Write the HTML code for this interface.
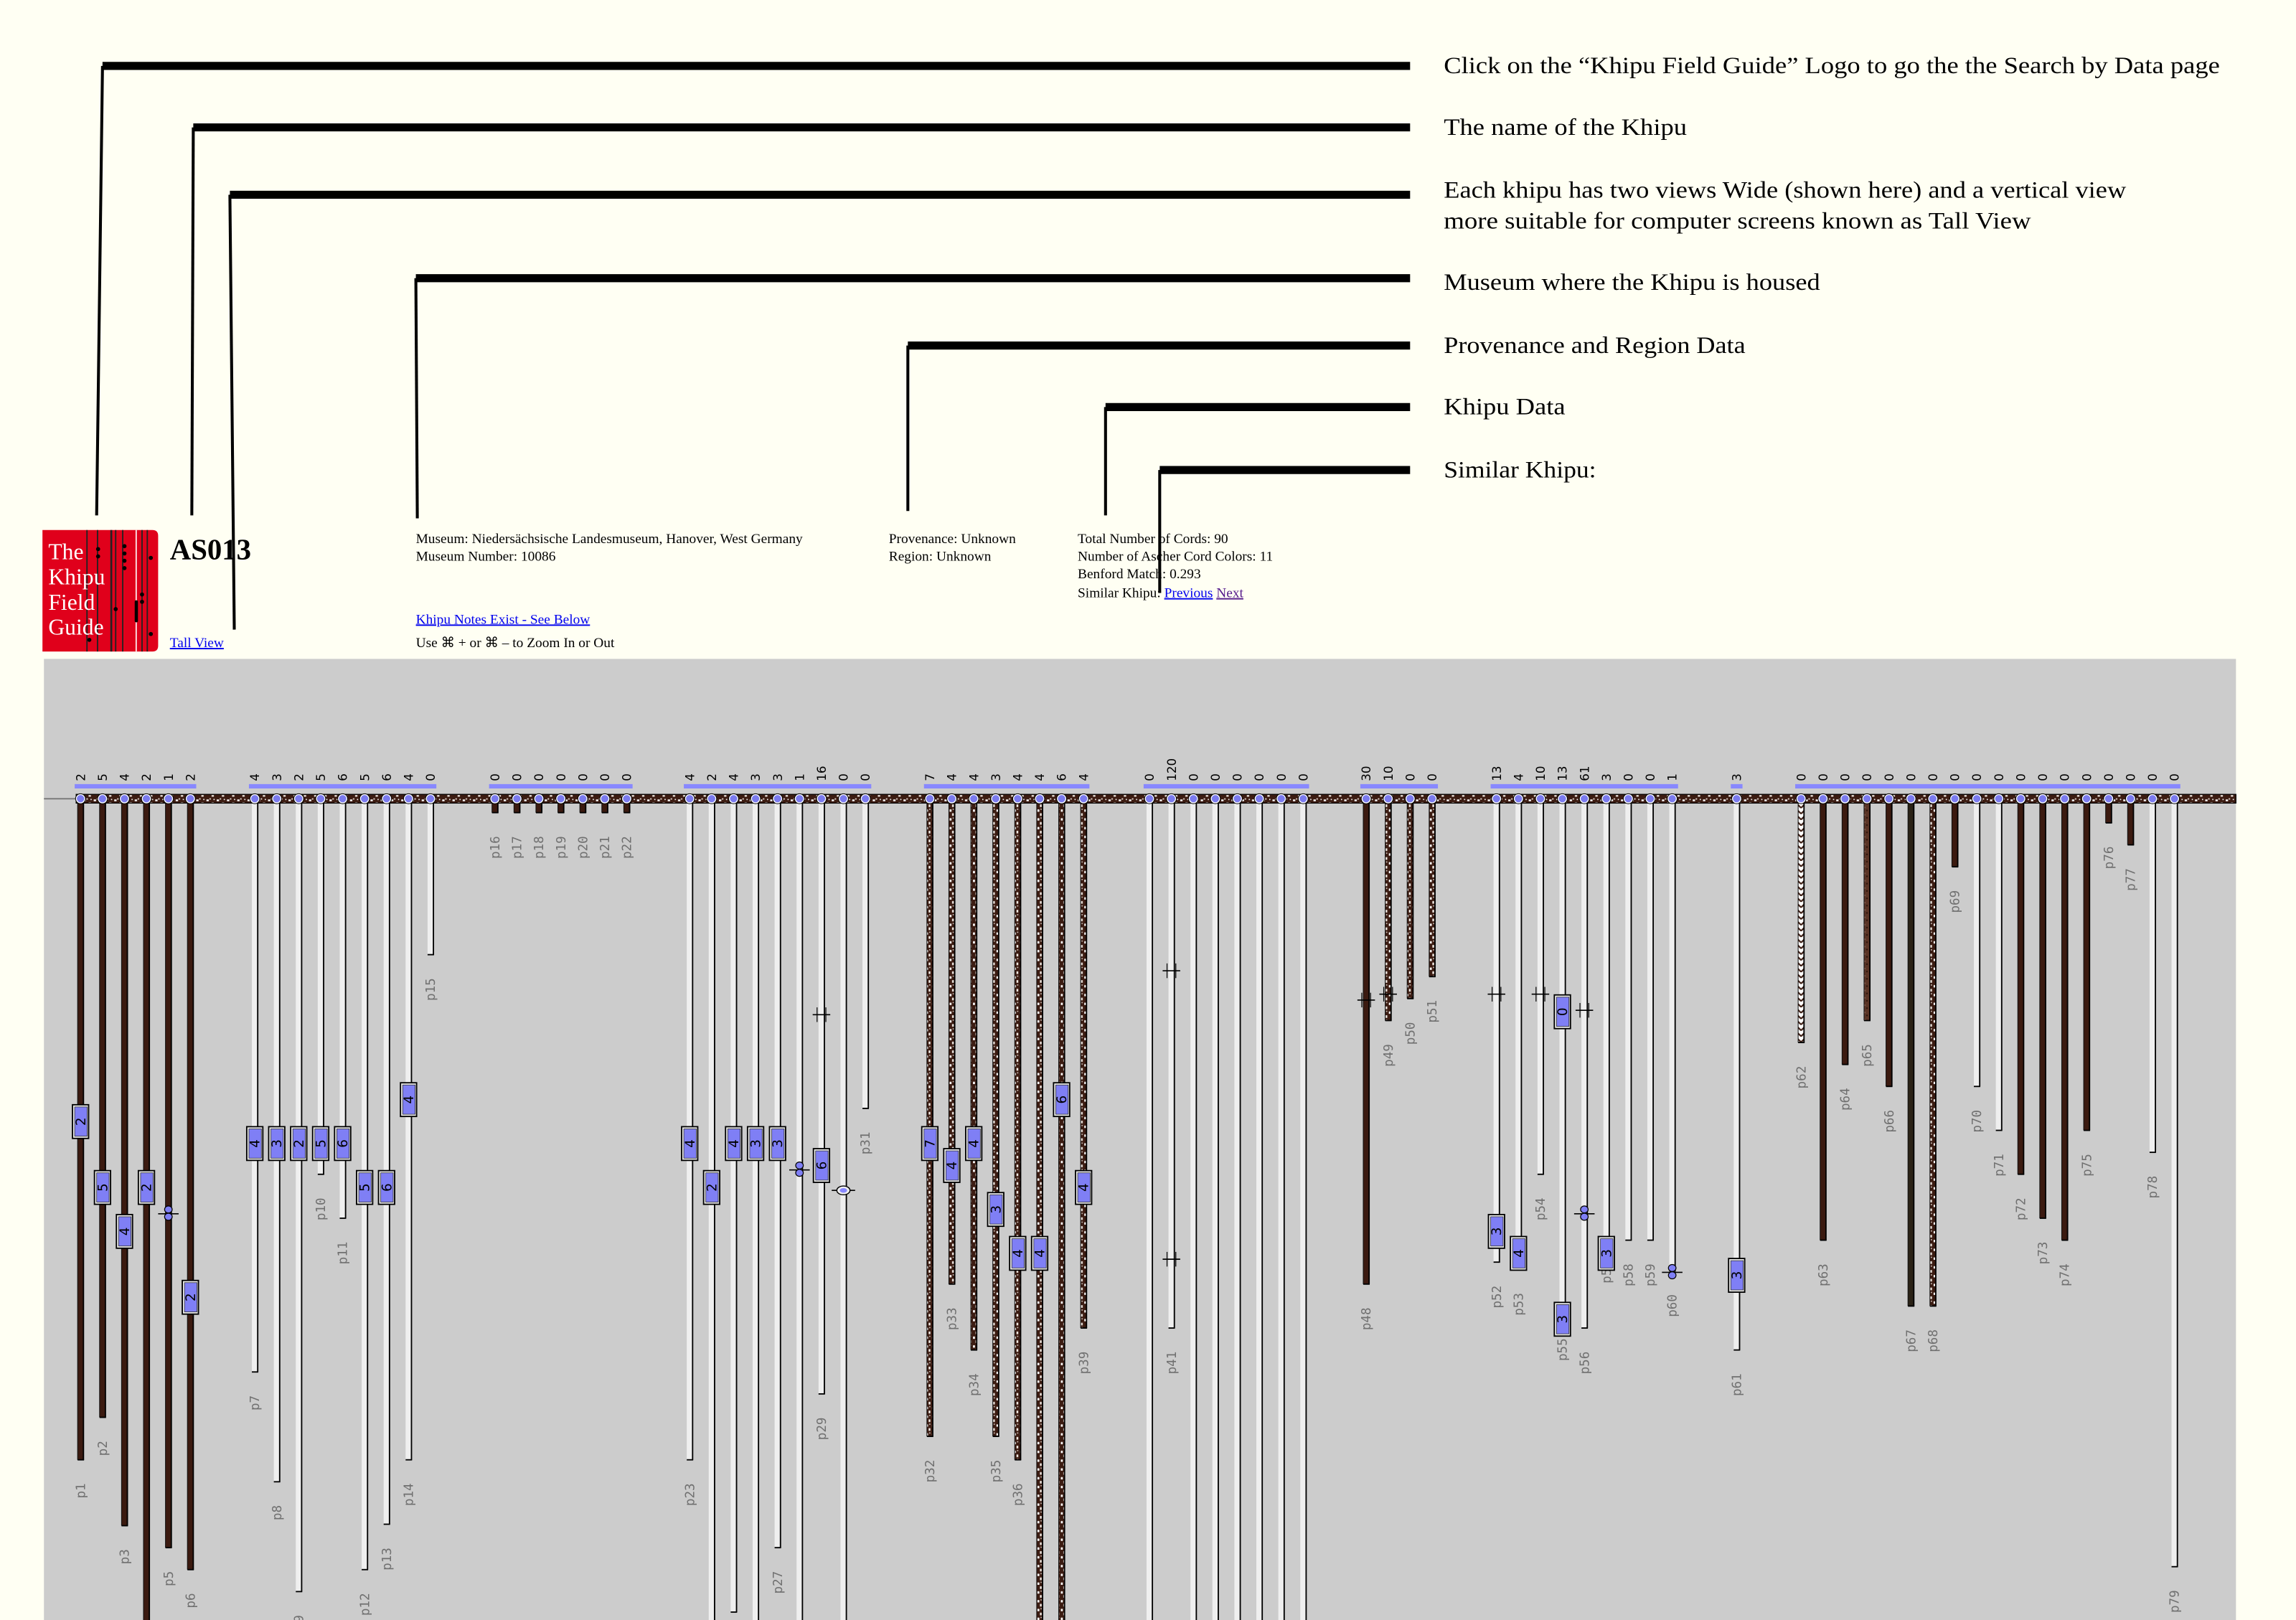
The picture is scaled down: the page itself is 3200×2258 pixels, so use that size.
<!DOCTYPE html>
<html><head><meta charset="utf-8"><style>
html,body{margin:0;padding:0;background:#fffff3;}
svg{display:block}
</style></head><body>
<svg id="s" xmlns="http://www.w3.org/2000/svg" width="3200" height="2258" viewBox="0 0 1568 1106.4">
<defs>
<pattern id="mot" width="7" height="5" patternUnits="userSpaceOnUse">
<rect width="7" height="5" fill="#3c1c12"/>
<rect x="1" y="1" width="1.6" height="1.2" fill="#fff"/>
<rect x="4.5" y="3" width="1.6" height="1.1" fill="#f4eee8"/>
<rect x="3" y="0.2" width="1" height="0.9" fill="#e8dcd4"/>
<rect x="5.8" y="0.6" width="0.8" height="0.8" fill="#fff"/>
</pattern>
<pattern id="motv" width="4" height="6" patternUnits="userSpaceOnUse">
<rect width="4" height="6" fill="#3c1c12"/>
<rect x="0.5" y="0.8" width="1.3" height="1.6" fill="#fff"/>
<rect x="2.2" y="3.4" width="1.2" height="1.8" fill="#f2ece6"/>
<rect x="2.6" y="0.3" width="0.8" height="0.8" fill="#d8ccc4"/>
</pattern>
<pattern id="motr" width="4" height="5" patternUnits="userSpaceOnUse">
<rect width="4" height="5" fill="#5a3426"/>
<rect x="1" y="1" width="1" height="1" fill="#8a6050"/>
<rect x="2.5" y="3" width="1" height="1" fill="#2a120a"/>
</pattern>
<pattern id="zig" width="4" height="4" patternUnits="userSpaceOnUse">
<rect width="4" height="4" fill="#fff"/>
<path d="M0 1 L2 3 L4 1 L4 2.5 L2 4.5 L0 2.5Z" fill="#3c1c12"/>
</pattern>
</defs>
<rect width="1568" height="1106.4" fill="#fffff3"/>
<rect x="30" y="450" width="1497" height="657" fill="#cccccc"/>
<g id="ann" stroke="#000" fill="none"></g>
<g font-family="Liberation Serif, serif" font-size="16" fill="#000">
<text x="986" y="50" textLength="530" lengthAdjust="spacingAndGlyphs">Click on the “Khipu Field Guide” Logo to go the the Search by Data page</text>
<text x="986" y="92" textLength="166" lengthAdjust="spacingAndGlyphs">The name of the Khipu</text>
<text x="986" y="135" textLength="466" lengthAdjust="spacingAndGlyphs">Each khipu has two views Wide (shown here) and a vertical view</text>
<text x="986" y="156" textLength="401" lengthAdjust="spacingAndGlyphs">more suitable for computer screens known as  Tall View</text>
<text x="986" y="198" textLength="257" lengthAdjust="spacingAndGlyphs">Museum where the Khipu is housed</text>
<text x="986" y="241" textLength="206" lengthAdjust="spacingAndGlyphs">Provenance and Region Data</text>
<text x="986" y="283" textLength="83" lengthAdjust="spacingAndGlyphs">Khipu Data</text>
<text x="986" y="326" textLength="104" lengthAdjust="spacingAndGlyphs">Similar Khipu:</text>
</g>
<!-- logo -->
<path d="M29 362 H104 Q108 362 108 366 V441 Q108 445 104 445 H29Z" fill="#e0001b"/>
<g stroke="#222" stroke-width="0.9">
<line x1="59.4" y1="362" x2="59.4" y2="445"/><line x1="66.6" y1="362" x2="66.6" y2="445"/>
<line x1="76" y1="362" x2="76" y2="445" stroke-width="1.3"/><line x1="79" y1="362" x2="79" y2="445"/>
<line x1="83.8" y1="362" x2="83.8" y2="445"/><line x1="93" y1="362" x2="93" y2="445" stroke="#fff" stroke-width="0.8"/>
<line x1="97" y1="362" x2="97" y2="445"/><line x1="100.6" y1="362" x2="100.6" y2="445"/>
</g>
<g fill="#000"><circle cx="67" cy="375" r="1.4"/><circle cx="67" cy="380" r="1.4"/><circle cx="85" cy="373" r="1.4"/><circle cx="85" cy="378" r="1.4"/><circle cx="85" cy="383" r="1.4"/><circle cx="85" cy="388" r="1.4"/><circle cx="103" cy="381" r="1.4"/><circle cx="97" cy="406" r="1.4"/><circle cx="97" cy="411" r="1.4"/><circle cx="79" cy="416" r="1.4"/><rect x="92" y="410" width="2.2" height="15" rx="1"/><circle cx="61" cy="437" r="1.4"/><circle cx="103" cy="433" r="1.4"/></g>
<g font-family="Liberation Serif, serif" font-size="15.5" fill="#fff">
<text x="33" y="382">The</text><text x="33" y="399">Khipu</text><text x="33" y="416.5">Field</text><text x="33" y="433.5">Guide</text></g>
<text x="116" y="382" font-family="Liberation Serif, serif" font-size="20" font-weight="bold">AS013</text>
<g font-family="Liberation Serif, serif" font-size="9.5" fill="#000">
<text x="116" y="442" fill="#00e" text-decoration="underline">Tall View</text>
<text x="284" y="371">Museum: Niedersächsische Landesmuseum, Hanover, West Germany</text>
<text x="284" y="383">Museum Number: 10086</text>
<text x="284" y="426" fill="#00e" text-decoration="underline">Khipu Notes Exist - See Below</text>
<text x="284" y="442">Use ⌘ + or ⌘ – to Zoom In or Out</text>
<text x="607" y="371">Provenance: Unknown</text>
<text x="607" y="383">Region: Unknown</text>
<text x="736" y="371">Total Number of Cords: 90</text>
<text x="736" y="383">Number of Ascher Cord Colors: 11</text>
<text x="736" y="395">Benford Match: 0.293</text>
<text x="736" y="408">Similar Khipu:  <tspan fill="#00e" text-decoration="underline">Previous</tspan>  <tspan fill="#551a8b" text-decoration="underline">Next</tspan></text>
</g>
<g id="bars"></g>
<g id="cords"></g>
<g id="main"></g>
<g id="tops"></g>
</svg>
<script>
var NS="http://www.w3.org/2000/svg";
function el(p,t,a,txt){var e=document.createElementNS(NS,t);for(var k in a)e.setAttribute(k,a[k]);if(txt!==undefined)e.textContent=txt;document.getElementById(p).appendChild(e);return e;}
[[70,45,66,352],[132,87,131,352],[157,133,160,430],[284,190,285,354],[620,236,620,349],[755,278,755,352],[792,321,792,405]].forEach(function(a){
 el('ann','line',{x1:a[0],y1:a[1],x2:963,y2:a[1],'stroke-width':5.5});
 el('ann','line',{x1:a[0],y1:a[1],x2:a[2],y2:a[3],'stroke-width':2});
});
var B=1110,cords=[];
function grp(x0,bots,vals,type,knots,start){
 for(var i=0;i<bots.length;i++){cords.push({x:x0+15*i,b:bots[i],v:vals[i],t:Array.isArray(type)?type[i]:type,k:(knots[i]||[]),n:start+i});}
 el('bars','rect',{x:x0-4,y:535.5,width:15*(bots.length-1)+8,height:3,fill:'#8888ff'});
}
grp(55,[997,968,1042,B,1057,1072],[2,5,4,2,1,2],'b',[[['x',766,2]],[['x',811,5]],[['x',841,4]],[['x',811,2]],[['e',828]],[['x',886,2]]],1);
grp(174,[937,1012,1087,802,832,1072,1041,997,652],[4,3,2,5,6,5,6,4,0],'w',[[['x',781,4]],[['x',781,3]],[['x',781,2]],[['x',781,5]],[['x',781,6]],[['x',811,5]],[['x',811,6]],[['x',751,4]]],7);
grp(338,[555,555,555,555,555,555,555],[0,0,0,0,0,0,0],'b',[],16);
grp(471,[997,B,1101,B,1057,B,952,B,757],[4,2,4,3,3,1,16,0,0],'w',[[['x',781,4]],[['x',811,2]],[['x',781,4]],[['x',781,3]],[['x',781,3]],[['e',798]],[['m',693],['x',796,6]],[['o',813]]],23);
grp(635,[981,877,922,981,997,B,B,907],[7,4,4,3,4,4,6,4],'m',[[['x',781,7]],[['x',796,4]],[['x',781,4]],[['x',826,3]],[['x',856,4]],[['x',856,4]],[['x',751,6]],[['x',811,4]]],32);
grp(785,[B,907,B,B,B,B,B,B],[0,120,0,0,0,0,0,0],'w',[[],[['m',663],['m',860]]],40);
grp(933,[877,697,682,667],[30,10,0,0],['b','m','m','m'],[[['m',683]],[['m',679]]],48);
grp(1022,[862,867,802,898,907,845,847,847,868],[13,4,10,13,61,3,0,0,1],'w',[[['m',679],['x',841,3]],[['x',856,4]],[['m',679]],[['x',691,0],['x',901,3]],[['m',690],['e',828]],[['x',856,3]],[],[],[['e',868]]],52);
grp(1186,[922],[3],'w',[[['x',871,3]]],61);
grp(1230,[712,847,727,697,742,892,892,592,742,772,802,832,847,772,562,577,787,1070],[0,0,0,0,0,0,0,0,0,0,0,0,0,0,0,0,0,0],
 ['z','b','b','r','b','o','m','b','w','w','b','b','b','b','b','b','w','w'],[],62);
var fills={b:'#3b1a10',w:'#efefef',m:'url(#motv)',r:'url(#motr)',z:'url(#zig)',o:'#2a2216'};
cords.forEach(function(c){
 el('cords','rect',{x:c.x-2,y:548,width:4,height:c.b-548,fill:fills[c.t]});
 el('cords','line',{x1:c.x+2,y1:548,x2:c.x+2,y2:c.b,stroke:'#000','stroke-width':0.9});
 if(c.t!='w')el('cords','line',{x1:c.x-2,y1:548,x2:c.x-2,y2:c.b,stroke:'#111','stroke-width':0.5});
 el('cords','line',{x1:c.x-2,y1:c.b,x2:c.x+2.4,y2:c.b,stroke:'#000','stroke-width':0.9});
 if(c.b<1100){el('cords','text',{x:0,y:0,transform:'translate('+(c.x+3)+','+(c.b+16)+') rotate(-90)','text-anchor':'end','font-family':'DejaVu Sans Mono, monospace','font-size':8.6,fill:'#707070'},'p'+c.n);}
 c.k.forEach(function(k){
  if(k[0]=='x'){
   el('cords','rect',{x:c.x-5.5,y:k[1]-11.5,width:11,height:23,fill:'#eee',stroke:'#000','stroke-width':0.9});
   el('cords','rect',{x:c.x-4,y:k[1]-10,width:8.5,height:20,fill:'#7f7ff5',stroke:'#333','stroke-width':0.4});
   el('cords','text',{x:0,y:0,transform:'translate('+(c.x+3.2)+','+k[1]+') rotate(-90)','text-anchor':'middle','font-family':'DejaVu Sans, sans-serif','font-size':9,fill:'#000'},k[2]);
  }else if(k[0]=='e'){
   el('cords','line',{x1:c.x-7,y1:k[1]+1,x2:c.x+7,y2:k[1]+1,stroke:'#000','stroke-width':0.8});
   el('cords','ellipse',{cx:c.x,cy:k[1]-2,rx:2.6,ry:2.4,fill:'#7f7ff5',stroke:'#000','stroke-width':0.6});
   el('cords','ellipse',{cx:c.x,cy:k[1]+3,rx:2.6,ry:2.4,fill:'#7f7ff5',stroke:'#000','stroke-width':0.6});
  }else if(k[0]=='o'){
   el('cords','line',{x1:c.x-8,y1:k[1],x2:c.x+8,y2:k[1],stroke:'#000','stroke-width':0.8});
   el('cords','ellipse',{cx:c.x,cy:k[1],rx:4.5,ry:3,fill:'#eee',stroke:'#000','stroke-width':0.7});
   el('cords','ellipse',{cx:c.x,cy:k[1],rx:2.5,ry:1.6,fill:'#8888ff'});
  }else{
   el('cords','line',{x1:c.x-6,y1:k[1],x2:c.x+6,y2:k[1],stroke:'#000','stroke-width':0.8});
   el('cords','line',{x1:c.x-3,y1:k[1]-5,x2:c.x-3,y2:k[1]+5,stroke:'#000','stroke-width':0.6});
   el('cords','line',{x1:c.x+3,y1:k[1]-5,x2:c.x+3,y2:k[1]+5,stroke:'#000','stroke-width':0.6});
  }
 });
});
el('main','line',{x1:30,y1:545.5,x2:52,y2:545.5,stroke:'#777','stroke-width':0.9});
el('main','rect',{x:52,y:542.5,width:1475,height:6,fill:'url(#mot)',stroke:'#000','stroke-width':0.6});
cords.forEach(function(c){
 el('main','circle',{cx:c.x,cy:545.5,r:3.4,fill:'#fff',stroke:'#000','stroke-width':0.5});
 el('main','circle',{cx:c.x,cy:545.5,r:2.5,fill:'#7b7bef'});
 el('tops','text',{x:0,y:0,transform:'translate('+(c.x+3)+',533.5) rotate(-90)','font-family':'DejaVu Sans, sans-serif','font-size':8.2,fill:'#000'},String(c.v));
});
</script>
</body></html>
